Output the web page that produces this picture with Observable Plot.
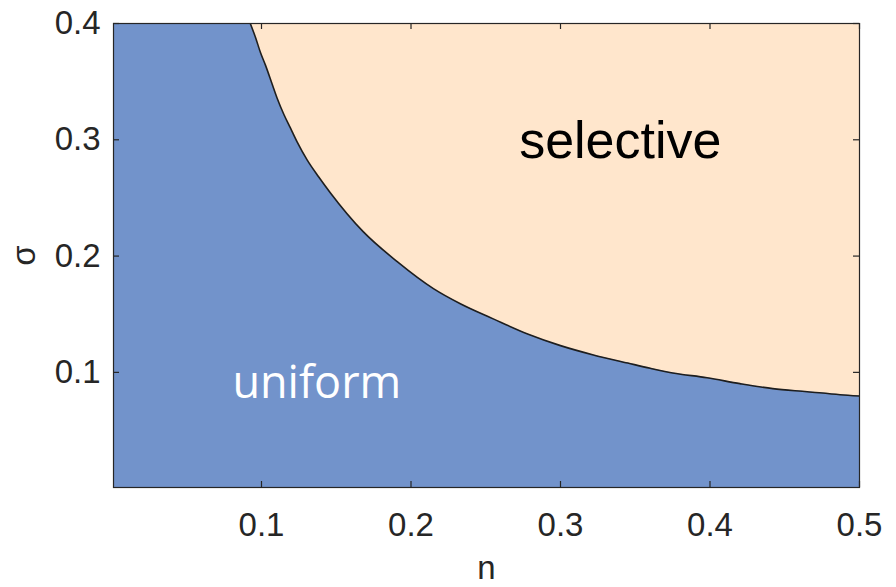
<!DOCTYPE html>
<html><head><meta charset="utf-8">
<script src="https://cdn.jsdelivr.net/npm/d3@7"></script>
<script src="https://cdn.jsdelivr.net/npm/@observablehq/plot@0.6"></script>
<style>body{margin:0;background:#fff}</style>
</head><body><div id="chart"></div>
<script>
// Phase boundary between "uniform" (below) and "selective" (above)
const nBoundary = [0.001, 0.0925, 0.0960, 0.0993, 0.1027, 0.1071, 0.1104, 0.1149, 0.1194, 0.1239, 0.1306, 0.1383, 0.146, 0.168, 0.191, 0.215, 0.233, 0.255, 0.278, 0.300, 0.322, 0.345, 0.360, 0.375, 0.398, 0.420, 0.442, 0.465, 0.487, 0.500];
const sigmaBoundary = [0.400, 0.400, 0.388, 0.375, 0.364, 0.348, 0.336, 0.322, 0.310, 0.298, 0.2825, 0.268, 0.2545, 0.221, 0.195, 0.172, 0.159, 0.146, 0.133, 0.123, 0.115, 0.108, 0.1035, 0.0995, 0.0954, 0.0903, 0.0860, 0.0834, 0.0808, 0.0797];
const xTicks = [0.1, 0.2, 0.3, 0.4, 0.5];
const yTicks = [0.1, 0.2, 0.3, 0.4];
const regionNames = ["selective", "uniform"];
const regionN = [0.34, 0.137];
const regionSigma = [0.299, 0.0903];

const boundary = nBoundary.map((n, i) => ({n, sigma: sigmaBoundary[i]}));
const curve = boundary.filter((d, i) => i >= 1);
const regions = regionNames.map((name, i) => ({name, n: regionN[i], sigma: regionSigma[i]}));

const W = 896, H = 587, ML = 113, MR = 37, MT = 23, MB = 100;
const TICK = 6;
const plotW = W - ML - MR, plotH = H - MT - MB;
const axisColor = "#262626";
const font = "'Liberation Sans', Arial, sans-serif";

const chart = Plot.plot({
  width: W, height: H,
  marginLeft: ML, marginRight: MR, marginTop: MT, marginBottom: MB,
  x: {domain: [0.001, 0.5]},
  y: {domain: [0.001, 0.4]},
  style: {fontFamily: font, fontSize: "33px", color: axisColor, background: "white"},
  marks: [
    Plot.frame({fill: "#FFE6CC", stroke: null}),
    Plot.areaY(boundary, {x: "n", y: "sigma", fill: "#7293CB", curve: "monotone-x", clip: true}),
    Plot.line(curve, {x: "n", y: "sigma", stroke: "#1e1e1e", strokeWidth: 1.6, curve: "monotone-x", clip: true}),
    Plot.text(regions.slice(0, 1), {x: "n", y: "sigma", text: "name", fill: "black", fontSize: 52, fontFamily: font}),
    Plot.text(regions.slice(1), {x: "n", y: "sigma", text: "name", fill: "white", fontSize: 45, fontFamily: "'Open Sans', sans-serif"}),
    // tick labels + axis labels
    Plot.axisX(xTicks, {anchor: "bottom", tickSize: 0, tickPadding: 25, tickFormat: ".1f", label: "n", labelAnchor: "center", labelOffset: 91, labelArrow: "none"}),
    Plot.axisY(yTicks, {anchor: "left", tickSize: 0, tickPadding: 13, tickFormat: ".1f", label: "σ", labelAnchor: "center", labelOffset: 102, labelArrow: "none"}),
    // inward ticks on all four sides
    Plot.tickX(xTicks, {x: d => d, stroke: axisColor, strokeWidth: 1.2, insetTop: plotH - TICK}),
    Plot.tickX(xTicks, {x: d => d, stroke: axisColor, strokeWidth: 1.2, insetBottom: plotH - TICK}),
    Plot.tickY(yTicks, {y: d => d, stroke: axisColor, strokeWidth: 1.2, insetRight: plotW - TICK}),
    Plot.tickY(yTicks, {y: d => d, stroke: axisColor, strokeWidth: 1.2, insetLeft: plotW - TICK}),
    Plot.frame({stroke: axisColor, strokeWidth: 1.2})
  ]
});
document.getElementById("chart").appendChild(chart);
</script>
</body></html>
